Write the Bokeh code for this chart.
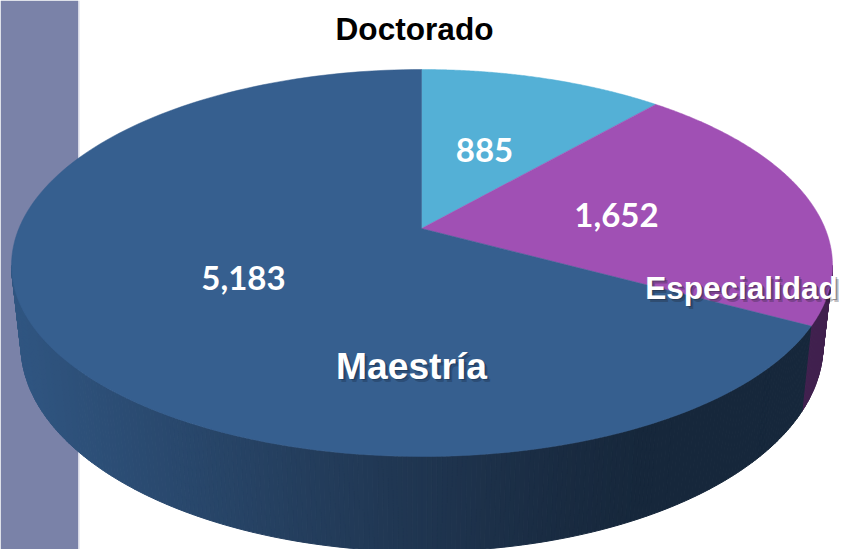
import math
from bokeh.plotting import figure
from bokeh.models import Range1d
from bokeh.core.properties import value
from bokeh.embed import file_html
from bokeh.resources import INLINE

categories = ["Doctorado", "Especialidad", "Maestría"]
values = [885, 1652, 5183]
value_labels = ["885", "1,652", "5,183"]
slice_colors = ["#54b0d6", "#a050b4", "#365f8f"]
wall_purple = "#40204e"
wall_stops = [(11, (48, 86, 130)), (150, (42, 74, 112)), (300, (36, 62, 93)),
              (450, (30, 51, 77)), (560, (25, 43, 65)), (640, (22, 39, 59)), (832, (22, 39, 59))]

# Geometry of the tilted pie, in picture pixels
AX, AY = 421.0, 228.0       # apex (perspective centre)
CX, CY, RX = 421.5, 265.0, 410.5   # top rim
RY_UP, RY_LOW = 196.0, 191.0
BX, BY, BRX, BRY = 421.5, 345.0, 401.0, 206.0  # bottom rim
K = 0.465

p = figure(width=844, height=549, output_backend="svg", toolbar_location=None,
           x_range=Range1d(0, 844), y_range=Range1d(549, 0), min_border=0)
p.axis.visible = False
p.grid.visible = False
p.outline_line_color = None
p.background_fill_color = "#ffffff"


def ray_hit(theta):
    """Point on the top rim along the ray from the apex at pie angle theta."""
    dx, dy = math.sin(theta), -K * math.cos(theta)
    for ry in (RY_UP, RY_LOW):
        ux, uy = (AX - CX) / RX, (AY - CY) / ry
        vx, vy = dx / RX, dy / ry
        a = vx * vx + vy * vy
        b = 2 * (ux * vx + uy * vy)
        c = ux * ux + uy * uy - 1
        s = (-b + math.sqrt(b * b - 4 * a * c)) / (2 * a)
        hy = AY + s * dy
        if (ry == RY_UP and hy <= CY) or (ry == RY_LOW and hy > CY):
            return AX + s * dx, hy
    return AX + s * dx, AY + s * dy


def rim_param(x, y):
    ry = RY_UP if y <= CY else RY_LOW
    return math.atan2((x - CX) / RX, -(y - CY) / ry) % (2 * math.pi)


def wall_color(x):
    for (x0, c0), (x1, c1) in zip(wall_stops, wall_stops[1:]):
        if x <= x1:
            f = max(0.0, (x - x0) / (x1 - x0))
            return "#%02x%02x%02x" % tuple(round(a + (b - a) * f) for a, b in zip(c0, c1))
    return "#%02x%02x%02x" % wall_stops[-1][1]


total = sum(values)
edges = [0.0]
for v in values:
    edges.append(edges[-1] + v / total * 2 * math.pi)

# Side wall: strips between the two rims, right extreme -> bottom -> left extreme
t_split = rim_param(*ray_hit(edges[2]))
n = 260
xs, ys, fills = [], [], []
for i in range(n):
    t0 = math.pi / 2 + math.pi * i / n
    t1 = math.pi / 2 + math.pi * (i + 1) / n
    qx = [CX + RX * math.sin(t0), CX + RX * math.sin(t1), BX + BRX * math.sin(t1), BX + BRX * math.sin(t0)]
    qy = [CY - RY_LOW * math.cos(t0), CY - RY_LOW * math.cos(t1), BY - BRY * math.cos(t1), BY - BRY * math.cos(t0)]
    xs.append(qx)
    ys.append(qy)
    fills.append(wall_purple if t0 < t_split else wall_color(sum(qx) / 4))

# Left band behind the pie
p.quad(left=[0], right=[77.5], top=[0], bottom=[549], fill_color="#7a82a8", line_color=None)
p.quad(left=[77.5], right=[79], top=[0], bottom=[549], fill_color="#c4c8dc", line_color=None, fill_alpha=0.7)

p.patches(xs, ys, fill_color=fills, line_color=fills, line_width=1)

# Top face
for i, col in enumerate(slice_colors):
    m = 160
    px, py = [AX], [AY]
    for j in range(m + 1):
        th = edges[i] + (edges[i + 1] - edges[i]) * j / m
        hx, hy = ray_hit(th)
        px.append(hx)
        py.append(hy)
    p.patch(px, py, fill_color=col, line_color=col, line_width=0.5)

SANS = value("Liberation Sans")
LATO = value("Lato")


def label(x, y, txt, size, font, color="#ffffff", shadow=None, style="bold"):
    if shadow:
        for off, al in ((1.5, 0.35), (3, 0.3)):
            p.text([x + off], [y + off], text=[txt], text_font=font, text_font_size=size,
                   text_font_style=style, text_color=shadow, text_alpha=al,
                   text_align="center", text_baseline="middle")
    p.text([x], [y], text=[txt], text_font=font, text_font_size=size, text_font_style=style,
           text_color=color, text_align="center", text_baseline="middle")


label(414, 28, categories[0], "31.6px", SANS, color="#000000")
label(484, 149, value_labels[0], "33px", LATO)
label(616, 214, value_labels[1], "33px", LATO)
label(243, 277, value_labels[2], "33px", LATO)
label(741, 287, categories[1], "31.5px", SANS, shadow="#20202a")
label(411, 365, categories[2], "37.2px", SANS, shadow="#14263c")

open("out.html", "w").write(file_html(p, INLINE))
